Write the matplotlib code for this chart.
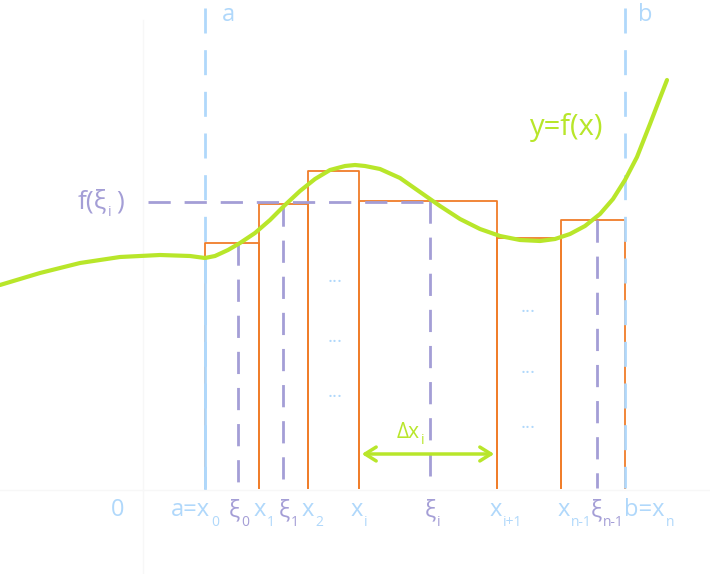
import numpy as np
import matplotlib.pyplot as plt

plt.rcParams['font.family'] = ['Open Sans', 'DejaVu Sans']

BLUE = '#b0d8fb'
PURPLE = '#a49ed6'
ORANGE = '#f07d2a'
GREEN = '#b8e62a'

# diagram in pixel coordinates (y grows downward)
edges = [205, 259, 308, 359, 497, 561, 625]
tops = [243, 204, 171, 201, 238, 220]
xis = [238, 283, 430, 597]
xi_tops = [243, 204, 201, 220]
base = 488
curve_x = [0, 40, 80, 120, 160, 190, 205, 215, 228, 240, 255, 270, 285, 300, 315, 330, 345, 355,
           365, 380, 400, 420, 440, 460, 480, 500, 520, 540, 555, 570, 585, 600, 613, 625, 637,
           650, 660, 667]
curve_y = [285, 273, 263, 257, 255, 256, 258, 256, 250, 243, 233, 220, 205, 191, 179, 170, 166, 165,
           166, 169, 178, 192, 206, 219, 229, 236, 240, 241, 239, 234, 226, 214, 199, 180, 157,
           124, 98, 80]
labels = [(118, '0', '', BLUE), (210, 'a=x', '0', BLUE), (240, 'ξ', '0', PURPLE),
          (266, 'x', '1', BLUE), (290, 'ξ', '1', PURPLE), (314, 'x', '2', BLUE),
          (363, 'x', 'i', BLUE), (436, 'ξ', 'i', PURPLE), (502, 'x', 'i+1', BLUE),
          (570, 'x', 'n-1', BLUE), (602, 'ξ', 'n-1', PURPLE), (665, 'b=x', 'n', BLUE)]

fig = plt.figure(figsize=(7.10, 5.74), dpi=100)
ax = fig.add_axes([0, 0, 1, 1])
ax.set_xlim(0, 710)
ax.set_ylim(574, 0)
ax.axis('off')

ax.plot([143, 143], [20, 574], color='#f7f7f7', lw=1)
ax.plot([0, 710], [490, 490], color='#f7f7f7', lw=1)

for i in range(len(tops)):
    l, r, t = edges[i], edges[i + 1], tops[i]
    ax.plot([l, l, r, r], [base, t, t, base], color=ORANGE, lw=1.3)

for x, t in zip(xis, xi_tops):
    ax.plot([x, x], [t, base], color=PURPLE, lw=2, dashes=(8, 5))
ax.plot([148, 430], [202, 202], color=PURPLE, lw=2, dashes=(8, 5))

ax.plot([205, 205], [8, base], color=BLUE, lw=2, dashes=(9, 6))
ax.plot([205, 205], [258, base], color=BLUE, lw=2)
ax.plot([625, 625], [8, base], color=BLUE, lw=2, dashes=(9, 6))

ax.plot(curve_x, curve_y, color=GREEN, lw=3, solid_capstyle='round')

ax.annotate('', xy=(359, 454), xytext=(497, 454),
            arrowprops=dict(arrowstyle='<->,head_length=0.8,head_width=0.5', color=GREEN, lw=2.5))
ax.text(420, 432, 'Δx', color=GREEN, fontsize=15, ha='right', va='center')
ax.text(421, 441, 'i', color=GREEN, fontsize=10, ha='left', va='center')

for y in [282, 342, 397]:
    ax.text(335, y, '···', color=BLUE, fontsize=14, ha='center', va='center')
for y in [312, 373, 428]:
    ax.text(528, y, '···', color=BLUE, fontsize=14, ha='center', va='center')

for x, s, sub, c in labels:
    ax.text(x, 510, s, color=c, fontsize=17, ha='right' if sub else 'center', va='center')
    if sub:
        ax.text(x + 1, 523, sub, color=c, fontsize=10, ha='left', va='center')

ax.text(228, 15, 'a', color=BLUE, fontsize=17, ha='center', va='center')
ax.text(645, 15, 'b', color=BLUE, fontsize=17, ha='center', va='center')
ax.text(567, 127, 'y=f(x)', color=GREEN, fontsize=21, ha='center', va='center')
ax.text(107, 202, 'f(ξ', color=PURPLE, fontsize=19, ha='right', va='center')
ax.text(108, 212, 'i', color=PURPLE, fontsize=10, ha='left', va='center')
ax.text(116, 202, ')', color=PURPLE, fontsize=19, ha='left', va='center')

fig.savefig('out.png', dpi=100)
